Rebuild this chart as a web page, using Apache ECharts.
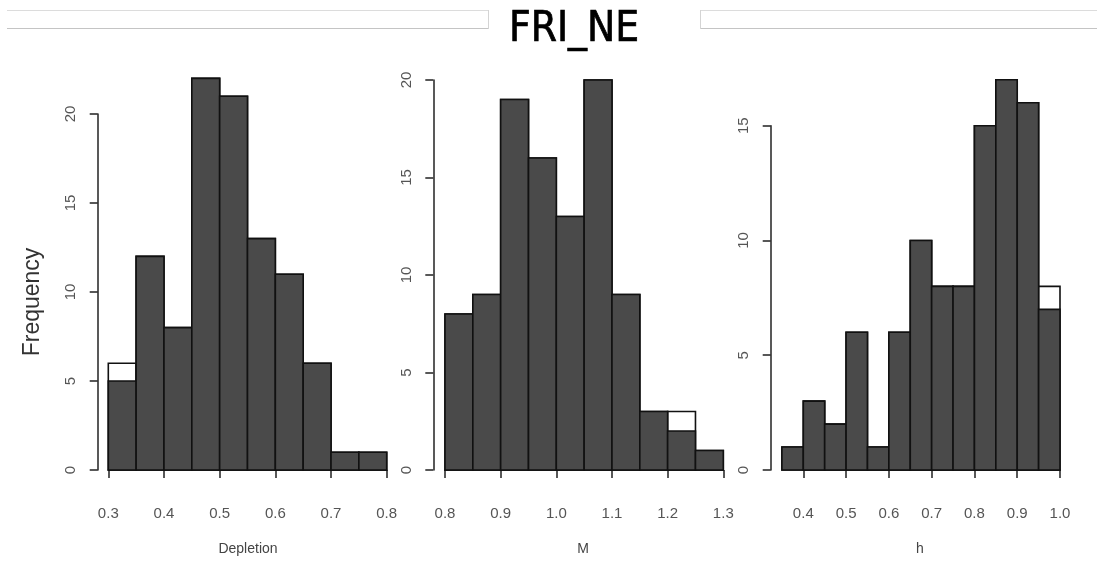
<!DOCTYPE html>
<html>
<head>
<meta charset="utf-8">
<script src="https://cdn.jsdelivr.net/npm/echarts@6/dist/echarts.min.js"></script>
<style>
html,body{margin:0;padding:0;background:#fff;}
#chart{width:1097px;height:562px;}
</style>
</head>
<body>
<div id="chart"></div>
<script>
// ---- data ----
var titleText = 'FRI_NE';
var yAxisTitle = 'Frequency';

var depletionBreaks = [0.30, 0.35, 0.40, 0.45, 0.50, 0.55, 0.60, 0.65, 0.70, 0.75, 0.80];
var depletionAll    = [6, 12, 8, 22, 21, 13, 11, 6, 1, 1];
var depletionSub    = [5, 12, 8, 22, 21, 13, 11, 6, 1, 1];

var mBreaks = [0.80, 0.85, 0.90, 0.95, 1.00, 1.05, 1.10, 1.15, 1.20, 1.25, 1.30];
var mAll    = [8, 9, 19, 16, 13, 20, 9, 3, 3, 1];
var mSub    = [8, 9, 19, 16, 13, 20, 9, 3, 2, 1];

var hBreaks = [0.35, 0.40, 0.45, 0.50, 0.55, 0.60, 0.65, 0.70, 0.75, 0.80, 0.85, 0.90, 0.95, 1.00];
var hAll    = [1, 3, 2, 6, 1, 6, 10, 8, 8, 15, 17, 16, 8];
var hSub    = [1, 3, 2, 6, 1, 6, 10, 8, 8, 15, 17, 16, 7];

var xNames = ['Depletion', 'M', 'h'];

// ---- helpers ----
function binData(breaks, counts) {
  var out = [];
  for (var i = 0; i < counts.length; i++) out.push([breaks[i], breaks[i + 1], counts[i]]);
  return out;
}
function histSeries(idx, data, fill) {
  return {
    type: 'custom',
    xAxisIndex: idx, yAxisIndex: idx,
    clip: false,
    silent: true,
    data: data,
    encode: { x: [0, 1], y: 2 },
    renderItem: function (params, api) {
      var p0 = api.coord([api.value(0), api.value(2)]);
      var p1 = api.coord([api.value(1), 0]);
      return {
        type: 'rect',
        shape: { x: p0[0], y: p0[1], width: p1[0] - p0[0], height: p1[1] - p0[1] },
        style: { fill: fill, stroke: '#111', lineWidth: 1.6 }
      };
    }
  };
}

var labelColor = '#555';
var axisColor = '#222';
function xAxisCfg(idx, min, max) {
  return {
    type: 'value', gridIndex: idx, min: min, max: max, interval: 0.1,
    offset: 15,
    axisLine: { show: true, lineStyle: { color: axisColor, width: 1.5 } },
    axisTick: { show: true, length: 8, lineStyle: { color: axisColor, width: 1.5 } },
    splitLine: { show: false },
    axisLabel: {
      color: labelColor, fontSize: 15, fontFamily: 'Liberation Sans, Arial, sans-serif', margin: 21,
      showMinLabel: true, showMaxLabel: true,
      formatter: function (v) { return (+v).toFixed(1); }
    }
  };
}
function yAxisCfg(idx, max, offset) {
  return {
    type: 'value', gridIndex: idx, min: 0, max: max, interval: 5,
    offset: offset,
    axisLine: { show: true, lineStyle: { color: axisColor, width: 1.5 } },
    axisTick: { show: true, length: 8, lineStyle: { color: axisColor, width: 1.5 } },
    splitLine: { show: false },
    axisLabel: {
      color: labelColor, fontSize: 15, fontFamily: 'Liberation Sans, Arial, sans-serif',
      margin: 19, rotate: 90
    }
  };
}

var chart = echarts.init(document.getElementById('chart'), null, { renderer: 'canvas' });
var dark = '#4a4a4a';

var option = {
  backgroundColor: '#fff',
  animation: false,
  grid: [
    { left: 108.3, top: 114, width: 278.4, height: 356 },
    { left: 445,   top: 80,  width: 278.3, height: 390 },
    { left: 803.3, top: 125.7, width: 256.7, height: 344.3 }
  ],
  xAxis: [
    xAxisCfg(0, 0.3, 0.8),
    xAxisCfg(1, 0.8, 1.3),
    xAxisCfg(2, 0.4, 1.0)
  ],
  yAxis: [
    yAxisCfg(0, 20, 10.6),
    yAxisCfg(1, 20, 11.7),
    yAxisCfg(2, 15, 32.6)
  ],
  series: [
    histSeries(0, binData(depletionBreaks, depletionAll), '#ffffff'),
    histSeries(0, binData(depletionBreaks, depletionSub), dark),
    histSeries(1, binData(mBreaks, mAll), '#ffffff'),
    histSeries(1, binData(mBreaks, mSub), dark),
    histSeries(2, binData(hBreaks, hAll), '#ffffff'),
    histSeries(2, binData(hBreaks, hSub), dark)
  ],
  graphic: [
    { type: 'line', shape: { x1: 7, y1: 10.5, x2: 488, y2: 10.5 }, style: { stroke: '#dcdcdc', lineWidth: 1 } },
    { type: 'line', shape: { x1: 7, y1: 28.5, x2: 488, y2: 28.5 }, style: { stroke: '#c4c4c4', lineWidth: 1 } },
    { type: 'line', shape: { x1: 488.5, y1: 10, x2: 488.5, y2: 29 }, style: { stroke: '#d4d4d4', lineWidth: 1 } },
    { type: 'line', shape: { x1: 700.5, y1: 10.5, x2: 1097, y2: 10.5 }, style: { stroke: '#dcdcdc', lineWidth: 1 } },
    { type: 'line', shape: { x1: 700.5, y1: 28.5, x2: 1097, y2: 28.5 }, style: { stroke: '#c4c4c4', lineWidth: 1 } },
    { type: 'line', shape: { x1: 700.5, y1: 10, x2: 700.5, y2: 29 }, style: { stroke: '#d4d4d4', lineWidth: 1 } },
    { type: 'text', x: 574, y: 30, style: { text: titleText, fill: '#000', stroke: '#000', lineWidth: 0.7, font: '42px "Liberation Sans Narrow", "DejaVu Sans Condensed", sans-serif', align: 'center', verticalAlign: 'middle' } },
    { type: 'text', x: 33, y: 302, rotation: Math.PI / 2, style: { text: yAxisTitle, fill: '#333', font: '23px "Liberation Sans", Arial, sans-serif', align: 'center', verticalAlign: 'middle' } },
    { type: 'text', x: 248, y: 549, style: { text: xNames[0], fill: '#444', font: '14px "Liberation Sans", Arial, sans-serif', align: 'center', verticalAlign: 'middle' } },
    { type: 'text', x: 583, y: 549, style: { text: xNames[1], fill: '#444', font: '14px "Liberation Sans", Arial, sans-serif', align: 'center', verticalAlign: 'middle' } },
    { type: 'text', x: 920, y: 549, style: { text: xNames[2], fill: '#444', font: '14px "Liberation Sans", Arial, sans-serif', align: 'center', verticalAlign: 'middle' } }
  ]
};
chart.setOption(option);
</script>
</body>
</html>
